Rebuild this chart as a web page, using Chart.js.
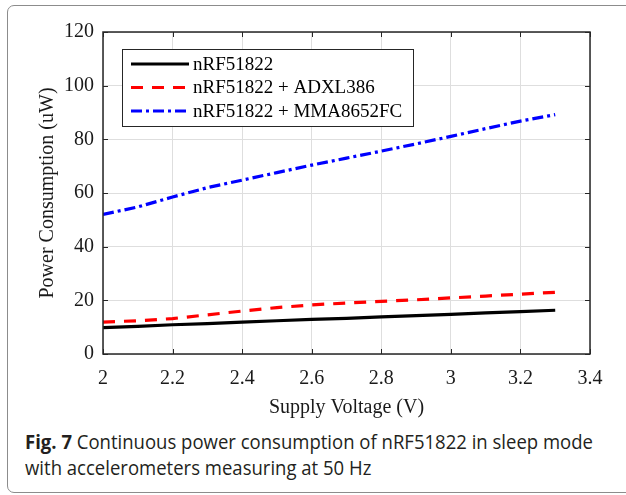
<!DOCTYPE html>
<html>
<head>
<meta charset="utf-8">
<script src="https://cdn.jsdelivr.net/npm/chart.js@4"></script>
<style>
html, body { margin: 0; padding: 0; background: #fff; }
body { width: 626px; height: 495px; position: relative; overflow: hidden; }
#frame { position: absolute; left: 7px; top: 5px; width: 650px; height: 488px; border: 1.5px solid #8c8c8c; border-radius: 7px; box-sizing: border-box; }
#wrap { position: absolute; left: 0; top: 0; width: 626px; height: 425px; }
#caption { position: absolute; left: 25px; top: 429px; font-family: "Open Sans", sans-serif; font-size: 20px; line-height: 26px; color: #231f20; white-space: nowrap; transform-origin: 0 0; }
#caption b { font-weight: 700; }
</style>
</head>
<body>
<div id="frame"></div>
<div id="wrap"><canvas id="chart"></canvas></div>
<div id="caption"><div id="cap1"><b>Fig. 7</b> Continuous power consumption of nRF51822 in sleep mode</div><div>with accelerometers measuring at 50 Hz</div></div>
<script>
// Supply voltage sweep (V)
const voltage = [2.0, 2.1, 2.2, 2.3, 2.4, 2.5, 2.6, 2.7, 2.8, 2.9, 3.0, 3.1, 3.2, 3.3];
// Power consumption (uW)
const nrfOnly = [9.8, 10.3, 10.9, 11.3, 11.9, 12.4, 12.9, 13.3, 13.8, 14.3, 14.8, 15.3, 15.8, 16.3];
const nrfAdxl = [11.9, 12.4, 13.2, 14.6, 16.0, 17.3, 18.3, 19.0, 19.6, 20.2, 20.9, 21.6, 22.3, 23.0];
const nrfMma = [52.0, 54.8, 58.5, 62.0, 64.8, 67.6, 70.4, 73.0, 75.6, 78.3, 81.1, 84.0, 86.8, 89.2];
const seriesLabels = ['nRF51822', 'nRF51822 + ADXL386', 'nRF51822 + MMA8652FC'];
const xTicks = [2, 2.2, 2.4, 2.6, 2.8, 3, 3.2, 3.4];
const yTicks = [0, 20, 40, 60, 80, 100, 120];

const serif = '"Liberation Serif", "Times New Roman", serif';
const toPoints = ys => ys.map((y, i) => ({ x: voltage[i], y }));

// MATLAB style box around the axes with inward ticks
const axesBox = {
    id: 'axesBox',
    afterDatasetsDraw(chart) {
        const { ctx, chartArea: a, scales: { x, y } } = chart;
        ctx.save();
        ctx.strokeStyle = '#262626';
        ctx.lineWidth = 1.5;
        ctx.strokeRect(a.left, a.top, a.right - a.left, a.bottom - a.top);
        ctx.lineWidth = 1;
        ctx.beginPath();
        xTicks.forEach(v => {
            const px = Math.round(x.getPixelForValue(v)) + 0.5;
            ctx.moveTo(px, a.bottom); ctx.lineTo(px, a.bottom - 5);
            ctx.moveTo(px, a.top); ctx.lineTo(px, a.top + 5);
        });
        yTicks.forEach(v => {
            const py = Math.round(y.getPixelForValue(v)) + 0.5;
            ctx.moveTo(a.left, py); ctx.lineTo(a.left + 5, py);
            ctx.moveTo(a.right, py); ctx.lineTo(a.right - 5, py);
        });
        ctx.stroke();
        ctx.restore();
    }
};

// boxed legend in the upper left of the plot
const boxLegend = {
    id: 'boxLegend',
    afterDraw(chart) {
        const ctx = chart.ctx;
        ctx.save();
        ctx.fillStyle = '#fff';
        ctx.fillRect(122, 49, 291, 77);
        ctx.strokeStyle = '#262626';
        ctx.lineWidth = 1;
        ctx.strokeRect(122.5, 49.5, 291, 77);
        chart.data.datasets.forEach((ds, i) => {
            const ly = 64 + i * 23.5;
            ctx.strokeStyle = ds.borderColor;
            ctx.lineWidth = ds.borderWidth;
            ctx.setLineDash(ds.borderDash || []);
            ctx.beginPath();
            ctx.moveTo(131, ly); ctx.lineTo(189, ly);
            ctx.stroke();
            ctx.setLineDash([]);
            ctx.fillStyle = '#000';
            ctx.font = '19px ' + serif;
            ctx.textBaseline = 'middle';
            ctx.fillText(ds.label, 193, ly + 1);
        });
        ctx.restore();
    }
};

new Chart(document.getElementById('chart'), {
    type: 'line',
    data: {
        datasets: [
            { label: seriesLabels[0], data: toPoints(nrfOnly), borderColor: '#000000', borderWidth: 3.2 },
            { label: seriesLabels[1], data: toPoints(nrfAdxl), borderColor: '#ff0000', borderWidth: 3.2, borderDash: [12, 9] },
            { label: seriesLabels[2], data: toPoints(nrfMma), borderColor: '#0000ff', borderWidth: 3.2, borderDash: [11, 4, 3, 4] }
        ]
    },
    options: {
        responsive: true,
        maintainAspectRatio: false,
        animation: false,
        events: [],
        layout: { padding: { left: 0, right: 36, top: 32, bottom: 0 } },
        elements: { point: { radius: 0 }, line: { tension: 0, borderCapStyle: 'butt' } },
        plugins: { legend: { display: false }, tooltip: { enabled: false } },
        scales: {
            x: {
                type: 'linear', min: 2, max: 3.4,
                afterBuildTicks: s => { s.ticks = xTicks.map(v => ({ value: v })); },
                afterFit: s => { s.height = 71; },
                grid: { color: '#dedede', lineWidth: 1, drawTicks: false },
                border: { display: false },
                ticks: { color: '#1a1a1a', font: { family: serif, size: 20 }, padding: 13, maxRotation: 0, autoSkip: false, callback: v => String(v) },
                title: { display: true, text: 'Supply Voltage (V)', color: '#1a1a1a', font: { family: serif, size: 20 }, padding: { top: 0, bottom: 5 } }
            },
            y: {
                type: 'linear', min: 0, max: 120,
                afterBuildTicks: s => { s.ticks = yTicks.map(v => ({ value: v })); },
                afterFit: s => { s.width = 103; },
                grid: { color: '#dedede', lineWidth: 1, drawTicks: false },
                border: { display: false },
                ticks: { color: '#1a1a1a', font: { family: serif, size: 20 }, padding: 9, autoSkip: false },
                title: { display: true, text: 'Power Consumption (uW)', color: '#1a1a1a', font: { family: serif, size: 20 }, padding: { top: 36, bottom: 0 } }
            }
        }
    },
    plugins: [axesBox, boxLegend]
});

// squeeze caption to the width of the original figure line
const cap = document.getElementById('caption');
const w = document.getElementById('cap1').getBoundingClientRect().width;
cap.style.transform = 'scaleX(' + (568 / w) + ')';
</script>
</body>
</html>
